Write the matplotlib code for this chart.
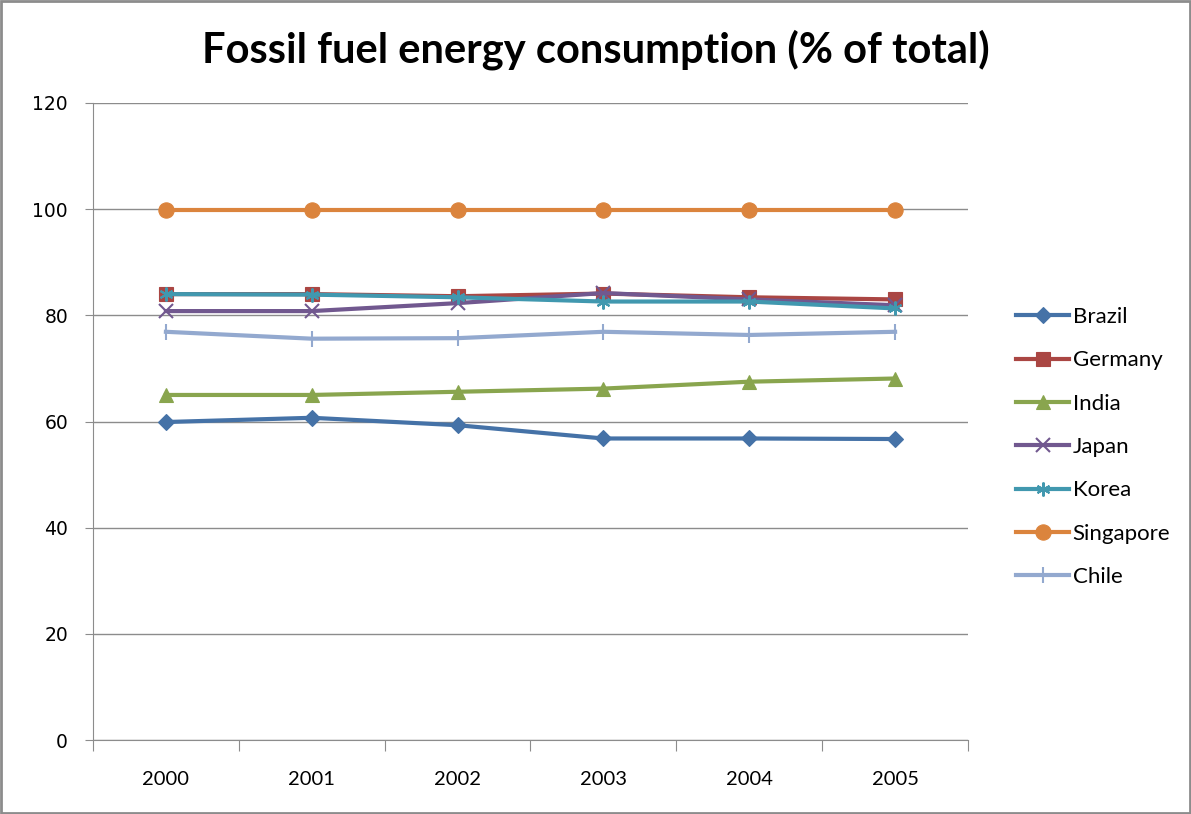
import matplotlib.pyplot as plt
import numpy as np
from matplotlib.patches import Rectangle

plt.rcParams['font.family'] = ['Lato', 'DejaVu Sans']

years = ["2000", "2001", "2002", "2003", "2004", "2005"]
brazil = [59.9, 60.7, 59.3, 56.8, 56.8, 56.7]
germany = [84.0, 84.0, 83.6, 84.1, 83.4, 83.0]
india = [65.0, 65.0, 65.6, 66.2, 67.5, 68.1]
japan = [80.8, 80.8, 82.3, 84.2, 83.0, 81.9]
korea = [84.0, 83.9, 83.4, 82.6, 82.6, 81.3]
singapore = [99.9, 99.9, 99.9, 99.9, 99.9, 99.9]
chile = [76.9, 75.6, 75.7, 76.9, 76.3, 76.9]

series = [
    ("Brazil", brazil, "#4572A7", "D", 8),
    ("Germany", germany, "#AA4643", "s", 10),
    ("India", india, "#89A54E", "^", 10),
    ("Japan", japan, "#71588F", "x", 10),
    ("Korea", korea, "#4198AF", (6, 2, 0), 10),
    ("Singapore", singapore, "#DB843D", "o", 11),
    ("Chile", chile, "#93A9CF", "|", 11),
]

fig = plt.figure(figsize=(11.91, 8.14), dpi=100)
ax = fig.add_axes([93 / 1191, 1 - 740 / 814, (968 - 93) / 1191, (740 - 103) / 814])

x = np.arange(len(years))
for name, vals, col, mk, ms in series:
    ax.plot(x, vals, color=col, lw=3, marker=mk, markersize=ms,
            markeredgewidth=1.5 if mk in ("x", "|") or isinstance(mk, tuple) else 0.8,
            markeredgecolor=col, label=name)

ax.set_ylim(0, 120)
ax.set_xlim(-0.5, 5.5)
ax.set_yticks(range(0, 121, 20))
ax.set_yticklabels([str(v) for v in range(0, 121, 20)], family="DejaVu Sans")
ax.yaxis.grid(True, color="#8c8c8c", lw=1)
ax.set_axisbelow(True)

ax.set_xticks(np.arange(-0.5, 6, 1))
ax.set_xticklabels([])
ax.set_xticks(x, minor=True)
ax.set_xticklabels(years, minor=True)
ax.tick_params(axis="x", which="major", length=8, color="#8c8c8c", direction="out")
ax.tick_params(axis="x", which="minor", length=0, pad=22, labelsize=14.5)
ax.tick_params(axis="y", length=6, color="#8c8c8c", labelsize=13.5, pad=12)

for s in ("top", "right"):
    ax.spines[s].set_visible(False)
for s in ("left", "bottom"):
    ax.spines[s].set_color("#8c8c8c")

fig.text(0.5, 1 - 50 / 814, "Fossil fuel energy consumption (% of total)",
         ha="center", va="center", fontsize=30, fontweight="bold")

fig.legend(loc="center left", bbox_to_anchor=(996 / 1191, 1 - 447 / 814),
           frameon=False, fontsize=16, labelspacing=1.05,
           handlelength=2.4, handletextpad=0.15)

fig.patches.append(Rectangle((0.001, 0.001), 0.998, 0.998, transform=fig.transFigure,
                             fill=False, edgecolor="#8c8c8c", lw=2))

fig.savefig("out.png", dpi=100)
